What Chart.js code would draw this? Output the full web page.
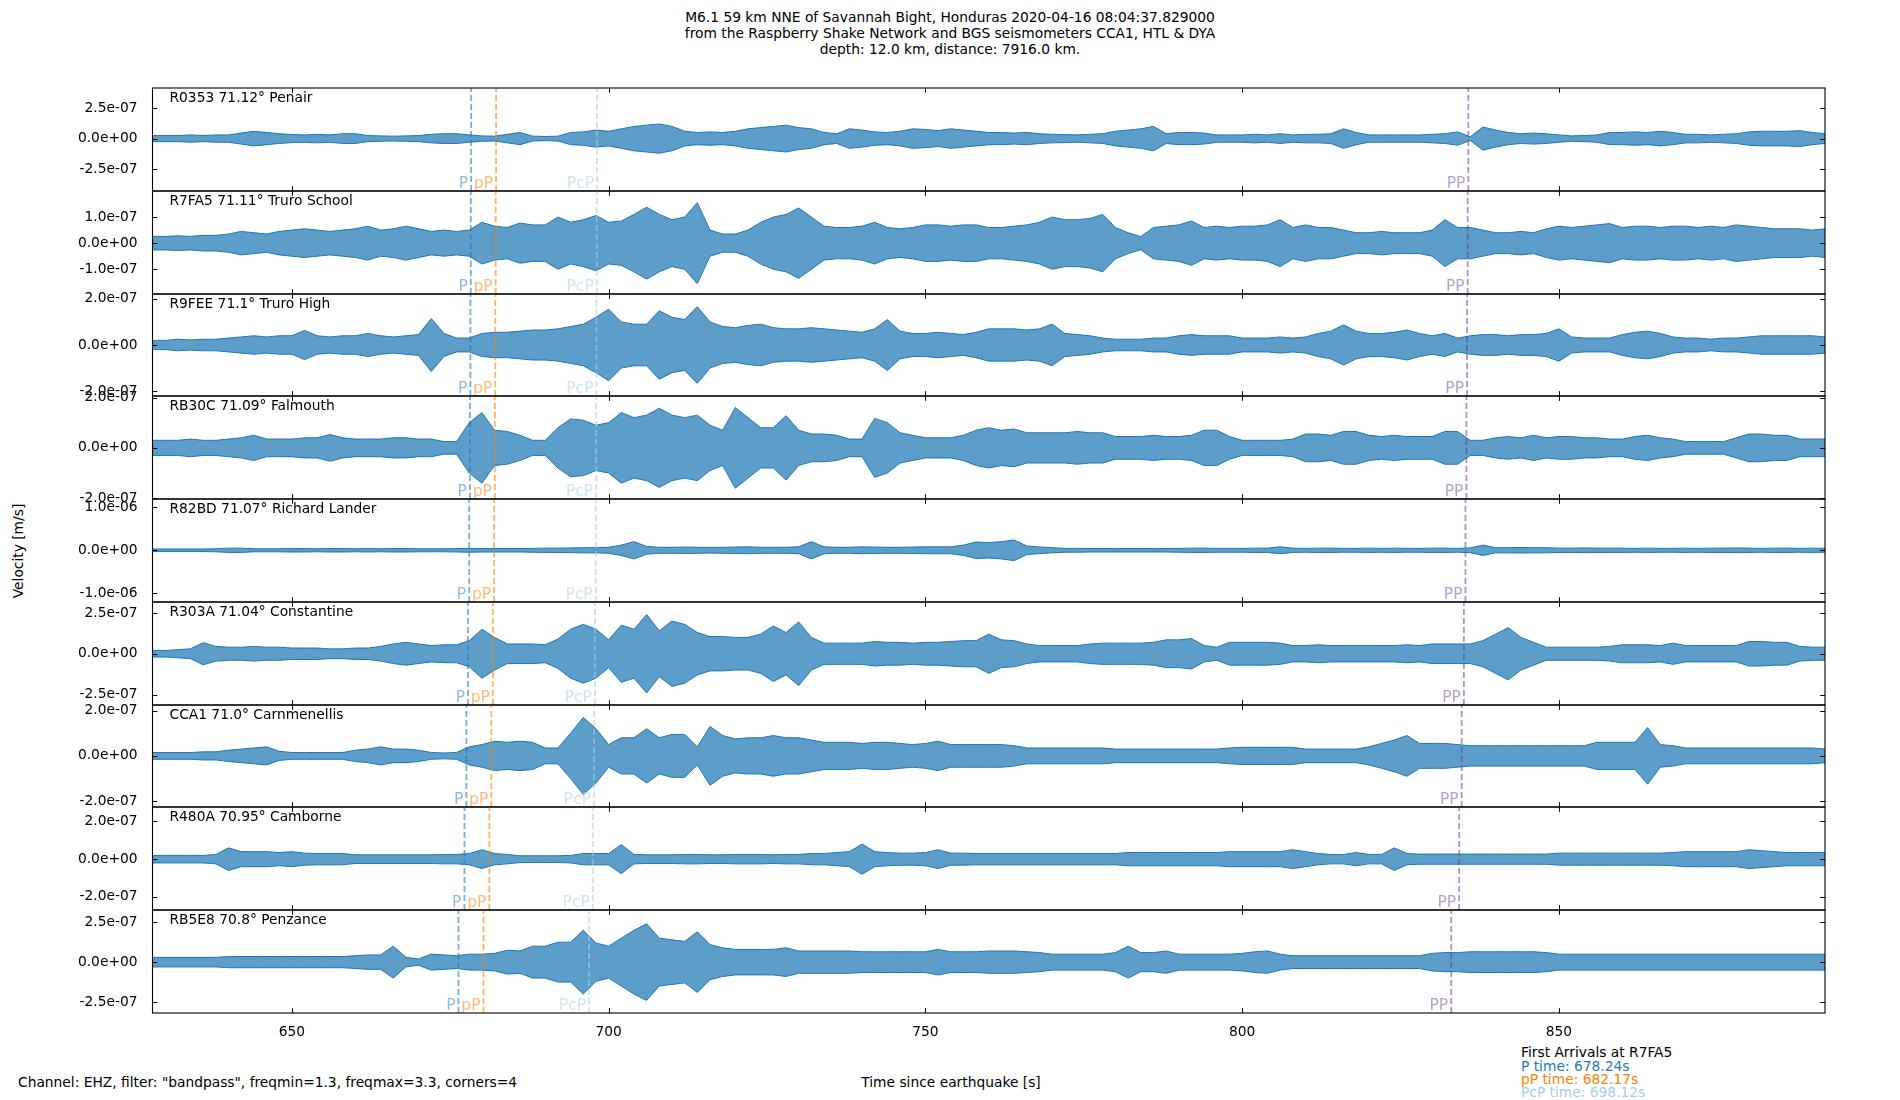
<!DOCTYPE html>
<html><head><meta charset="utf-8">
<script src="https://cdn.jsdelivr.net/npm/chart.js@4.4.1/dist/chart.umd.min.js"></script>
<style>
html,body{margin:0;padding:0;background:#fff;}
body{width:1900px;height:1100px;position:relative;overflow:hidden;font-family:"DejaVu Sans",sans-serif;font-size:13.8px;color:#000;}
canvas{position:absolute;left:0;}
.t{position:absolute;white-space:nowrap;line-height:16.4px;}
</style></head><body>
<div class="t" style="left:0;width:1900px;top:8.5px;text-align:center;">M6.1 59 km NNE of Savannah Bight, Honduras 2020-04-16 08:04:37.829000<br>from the Raspberry Shake Network and BGS seismometers CCA1, HTL &amp; DYA<br>depth: 12.0 km, distance: 7916.0 km.</div>
<div class="t" style="left:17.5px;top:551px;transform:translate(-50%,-50%) rotate(-90deg);">Velocity [m/s]</div>
<div class="t" style="left:18px;top:1073.8px;">Channel: EHZ, filter: "bandpass", freqmin=1.3, freqmax=3.3, corners=4</div>
<div class="t" style="left:951px;top:1073.8px;transform:translateX(-50%);">Time since earthquake [s]</div>
<div class="t" style="left:1521px;top:1043.8px;">First Arrivals at R7FA5</div>
<div class="t" style="left:1521px;top:1057.8px;color:#1f78b4;">P time: 678.24s</div>
<div class="t" style="left:1521px;top:1070.8px;color:#ff7f00;">pP time: 682.17s</div>
<div class="t" style="left:1521px;top:1084.3px;color:#a6cee3;">PcP time: 698.12s</div>
<script>
// ---------------- data ----------------
const T0 = 628, DT = 2;           // sampling grid of the envelope values (s)
const X_MIN = 628, X_MAX = 892;
const X_TICKS = [650, 700, 750, 800, 850];
const STATIONS = ['R0353 71.12° Penair','R7FA5 71.11° Truro School','R9FEE 71.1° Truro High','RB30C 71.09° Falmouth','R82BD 71.07° Richard Lander','R303A 71.04° Constantine','CCA1 71.0° Carnmenellis','R480A 70.95° Camborne','RB5E8 70.8° Penzance'];
const P_TIMES   = [678.30, 678.24, 678.18, 678.11, 677.99, 677.80, 677.55, 677.24, 676.30];
const PP_D_TIMES= [682.23, 682.17, 682.11, 682.04, 681.92, 681.73, 681.48, 681.17, 680.25];
const PCP_TIMES = [698.16, 698.12, 698.08, 698.04, 697.96, 697.84, 697.69, 697.49, 696.90];
const PP_TIMES  = [835.70, 835.60, 835.50, 835.40, 835.25, 835.00, 834.65, 834.25, 833.00];
const Y_MIN = [-4.3e-7, -1.95e-7, -2.21e-7, -2.03e-7, -1.2e-6, -3.14e-7, -2.26e-7, -2.7e-7, -3.19e-7];
const Y_MAX = [4.15e-7, 2.0e-7, 2.21e-7, 2.06e-7, 1.19e-6, 3.17e-7, 2.25e-7, 2.77e-7, 3.27e-7];
const Y_TICKS = [
  [-2.5e-7, 0, 2.5e-7], [-1e-7, 0, 1e-7], [-2e-7, 0, 2e-7], [-2e-7, 0, 2e-7], [-1e-6, 0, 1e-6],
  [-2.5e-7, 0, 2.5e-7], [-2e-7, 0, 2e-7], [-2e-7, 0, 2e-7], [-2.5e-7, 0, 2.5e-7]
];
const AMP_UNIT = 1e-8; // envelope amplitudes below are in 1e-8 m/s
const AMP_R0353 = [
2.5,2.5,2.5,3,2.5, 3,3,4.5,6,5, 4,3.3,3,3.5,3, 4,4,2.5,2.2,2, 2.2,2.5,3.5,4,4,
3,2.2,2,3.5,5, 2,1.7,2,5,5.5, 7,6,8,10,11, 12,10,6,5,5.5, 5,6,8,9,10,
11,9,8,5,4, 8,7,5.5,5,6, 8,7.5,6.5,8,7, 6,5,5,4.5,5, 4,3.5,3.3,3,3.5,
4,6,7,8,10, 4,5,5,4.5,3, 3,3,3.5,3,4, 3,3.5,3.5,4,8, 5,3,3,3,3,
3,3.5,4,5.5,1.5, 9.5,7,5,4,4.5, 4,3,2.2,2.5,3, 5,5,5.5,5,6, 5,3.5,3.5,3,3.5,
4,5.5,6,6,6, 6.5,5,4];
const AMP_R7FA5 = [
2.6,2.6,2.8,2.6,3, 3,3.5,4.5,4,3.5, 4.5,5,5.5,5,4.5, 5,5.5,6.5,5,5.5, 6.5,5.5,4.5,5,4.5,
5,8,6.5,6,7.7, 7,7,10,8,9, 10.6,8,8.5,11,13.8, 11,9,10,15.5,5, 3.5,3.5,5,8,10,
11,13.5,10,6.5,6, 6,6.5,8,6,5.5, 6,7,7,6.5,7, 7,6,6,6.5,7, 8,10,9,9,9.5,
11,6,4,2.5,6, 6.5,7,8.5,6,6.5, 6,6.5,6.5,7,9, 6,7,6,6,5, 4,4,4.5,4,4,
4,5,9,6,6, 5,4,4,4.5,4, 5.5,6.5,6,6.5,7, 7.5,6,6.5,6.5,6, 6.5,6.5,6,6.5,6,
7,6.5,6,5.5,5.5, 5.5,5,5.5];
const AMP_R9FEE = [
2,2,2.5,2.2,2.5, 2.5,3,3.5,4,3.5, 4,4,6.3,4,3.5, 4,4,5,4,3.5, 4,4.5,11.5,5,3,
3,5,5.5,5.5,6, 6.5,6.5,7,8,9, 12,15.5,10,9,9, 14.8,12,11,16.6,10, 8,7.5,8.5,9,7.5,
7,7,7.5,7,6.5, 6,5.5,7,11,6, 5,5,5.5,5,4.5, 5.5,7,7,7,6.5, 7,9,5,4.5,4,
3,2.5,2.5,2.5,3, 3,4,4.5,4,4, 4,3,3,3,3.5, 3,3.5,5,6,8.7, 6,5,5,5.5,6.5,
5,4,5,3,4, 4.5,4.5,4,4.5,4.5, 5,7,3.5,3,3, 3,4.5,5.5,6,5, 3.5,3,3,2.5,3,
3,3.5,4,4,4, 4,4,3.5];
const AMP_RB30C = [
3,3,3,3.5,3, 3,3.5,4,5,3.5, 3.5,3.5,4,4,5.3, 4,3.5,3.5,3.5,4, 4,3.5,3.5,2.5,2.5,
10,14,7,6.5,5, 3,3,8,11.5,11, 9,10,14,12,13, 15.7,13,12,13,9, 7,16,12,8,8,
12.8,7,5.5,5.5,5, 3.5,3.5,11.7,10,6, 5,4,4,4,5, 7,8,7,7.5,6, 6,6,6,6.5,6,
6,4.5,4.5,4.5,5, 4.5,4.5,5,7,7, 4.5,3,3,3,3, 3.5,5.5,5.5,5,6.5, 6.5,5,4.5,5,4.5,
4.5,4.5,6.5,6.5,3, 3,4,4.5,4,5, 4,4.5,4.5,4,4, 3.5,3.5,4.5,5,4, 3.5,2.5,2.5,2.5,2.5,
4,5.5,5.5,5,5, 3.5,3.5,3.5];
const AMP_R82BD = [
3,3,3,3,3, 3.5,5,5,3.5,3.5, 3.5,4,4,3.5,4, 4,3.5,4,3.5,4, 4,3.5,3.5,3.5,4,
4.5,4,4,4,4, 4.5,5,5,5.5,6, 6,7,12,20,9, 7,7,7.5,7,6.5, 7,7.5,8,7,7,
7,8,20,8,7, 7,8,7.5,7,7, 7.5,8,8,8,12, 19,18,20,24,10, 7.7,6,4.5,4.5,4,
4,4,4,4,4, 4,4.5,5,5,4.5, 4.5,4.5,5,5,8, 5,4.5,5,5,4.5, 4.5,5,4.5,5,4.5,
4.5,5,5,4.5,5.5, 12,6,6,6.5,6, 6,5,5,5.5,5, 5,5,4.5,5,4.5, 4.5,5,4.5,5,5,
5.5,5,4.5,5,5, 4.5,5,4.5];
const AMP_R303A = [
2,2,2.5,3,6.8, 4.5,4,4,4.5,4, 4,3.5,3.5,3.5,3, 3,3.5,3.5,4.5,6, 7,6,5,5.5,5.5,
8,15,10,6,6, 6,5.5,9,15,18, 15,8.5,17.5,15,24, 14,20,18,13,10.5, 10.5,10,10,12,17,
13,19.5,10,6.5,6.5, 6.5,6.5,7.5,7,7, 6.5,7,7,7.5,8, 8,12,8.5,8,6, 5,5,5,5,6,
6.5,6.5,6.5,6.5,7, 8.5,8.5,9.3,5,4, 7,7,7,7,6.5, 5,5,5.5,5,5, 5,5,5,5,5.5,
5,6,6,6,6, 8,12,16,10,7, 4,4,4,4,4, 4.5,5.5,5.5,5.5,5, 6.5,5,5,5,5,
5,7.5,7.5,7,7, 4.5,4,4];
const AMP_CCA1 = [
1.5,1.5,1.5,1.5,1.8, 1.8,2.5,3,3.5,4, 2,1.5,1.5,1.5,1.5, 1.5,2.5,3,4,3, 3,2.5,1.5,1.3,1.5,
4,5,6.5,6,6.5, 6,3.5,3.5,10,17, 12,5,8,8,12, 8,9.5,9.5,4,13, 9,7.5,8,8,9,
8,8,7,6,6, 6,5.5,6,6,5.5, 5,5.5,6.5,5,5, 5,5,5,4.5,3.5, 3.5,3.5,3.5,3.5,3.5,
3.5,3,3,3,3, 3,3,3,3,3, 3.5,3.8,3.8,3.8,3.8, 3.8,3,3,3,3, 3,4,5.5,7,9,
5.5,5.5,5.5,5,4.5, 4.5,4.5,4.5,4.5,4.5, 4.5,4.5,4.5,4.5,6, 6,6,6,12.5,5, 4.5,3.5,3.5,3.5,3.5,
3.5,3.5,3.5,3.5,3.5, 3.5,3.5,3];
const AMP_R480A = [
2,2,2,2,2, 2.5,6,4,4,4, 3.5,4,3.2,3,3, 3,2.3,2.3,2.3,2.3, 2.3,2.3,2.3,2.5,2.5,
3,5,3,2.5,1.8, 1.8,1.8,1.8,2,3, 3,3,7.7,2.5,2.3, 2.3,2.3,2.5,2.5,2.3, 2.3,2.5,2.5,2.5,2.3,
2.5,2.5,3,3,3.5, 4,8,4,3.5,3.2, 3.2,3.5,5,3.2,3.2, 3,3,3,3,3, 3,3,3,3,3,
3,3,3.5,3.5,3.5, 3.5,3.5,3.5,3.5,3.5, 4,4,4,4,4, 5,4,3,2.5,2.5, 3.5,2.5,2.5,6,3,
2.7,2.7,2.7,2.7,2.7, 2.7,2.7,2.7,2.7,2.7, 2.7,3.2,3.2,3.2,3.2, 3.2,3.2,3.2,3.2,3.2, 3.5,4,4,4,4,
4,5,4.5,4,3.5, 3.5,3.5,3.5];
const AMP_RB5E8 = [
3,3,3,3,3, 3,3.5,3.5,3.5,3.5, 3.5,3.5,3.5,3.5,3.5, 3.5,4,4.5,4.5,10, 3,2,5,4.5,4,
5,5,5.5,7.5,7, 10,10,12.5,12.5,20, 12,10,15,20,24, 15,14,13,19,11, 9,8,8,8,8,
9,7,7,7,7, 7,6.5,6.5,6.5,6.5, 6.5,6.5,8,6.5,6.5, 6.5,7,7,7,6.5, 6,5,5,5,5,
5,6,10,6,6, 7,5,5,5,5, 5,5.5,6.5,7,5, 4,4,4,4,4, 4,4,4,4,4,
4,5.5,6,6,6.5, 6.5,6.5,6.5,6.5,6.5, 6,5,5,5,5, 5,5,5,5,5, 5,5,5,5,5,
5,5,5,5,5, 5,5,5];
const AMPS = [AMP_R0353, AMP_R7FA5, AMP_R9FEE, AMP_RB30C, AMP_R82BD, AMP_R303A, AMP_CCA1, AMP_R480A, AMP_RB5E8];

// ---------------- styling / layout ----------------
const FONT = '"DejaVu Sans", sans-serif';
const FS = 13.8;
const TRACE = '#1f77b4';
const PHASES = [
  {name:'P',   times:P_TIMES,    line:'rgba(31,120,180,0.6)',  text:'rgba(31,120,180,0.5)'},
  {name:'pP',  times:PP_D_TIMES, line:'rgba(255,127,0,0.6)',   text:'rgba(255,127,0,0.55)'},
  {name:'PcP', times:PCP_TIMES,  line:'rgba(166,206,227,0.6)', text:'rgba(166,206,227,0.55)'},
  {name:'PP',  times:PP_TIMES,   line:'rgba(106,61,154,0.55)', text:'rgba(106,61,154,0.5)'}
];
const LEFT = 152.5, RIGHT = 1825, YW = 100;

function sci(v){
  const s = Number(v).toExponential(1);
  const parts = s.split('e');
  const sign = parts[1][0] === '-' ? '-' : '+';
  let d = parts[1].replace(/[+-]/, '');
  if (d.length < 2) d = '0' + d;
  return parts[0] + 'e' + sign + d;
}

function makePanel(i){
  const top = Math.round(88.3 + i * 102.7);
  const bot = Math.round(88.3 + (i + 1) * 102.7);
  const h = bot - top;
  const last = (i === AMPS.length - 1);
  const padT = 16, padB = last ? 0 : 16, axisH = last ? 32 : 0;
  const cv = document.createElement('canvas');
  const H = padT + h + padB + axisH;
  cv.width = 1900; cv.height = H;
  cv.style.width = '1900px'; cv.style.height = H + 'px';
  cv.style.top = (top - padT) + 'px';
  document.body.appendChild(cv);

  const amp = AMPS[i];
  const upper = amp.map((a, k) => ({x: T0 + k * DT, y: a * AMP_UNIT}));
  const lower = amp.map((a, k) => ({x: T0 + k * DT, y: -a * AMP_UNIT}));
  const datasets = [
    {data: upper, borderColor: TRACE, borderWidth: 1, pointRadius: 0, fill: false, order: 2, tension: 0},
    {data: lower, borderColor: TRACE, borderWidth: 1, pointRadius: 0, fill: '-1', backgroundColor: 'rgba(31,119,180,0.72)', order: 2, tension: 0}
  ];
  PHASES.forEach(ph => {
    const t = ph.times[i];
    datasets.push({data: [{x: t, y: Y_MIN[i]}, {x: t, y: Y_MAX[i]}], borderColor: ph.line, borderWidth: 1.8,
      borderDash: [6, 3], pointRadius: 0, fill: false, order: 0});
  });

  const deco = {
    id: 'deco' + i,
    afterDraw(chart){
      const ctx = chart.ctx, a = chart.chartArea;
      const xs = chart.scales.x, ys = chart.scales.y;
      ctx.save();
      // phase labels
      ctx.font = '15.5px ' + FONT;
      ctx.textAlign = 'right'; ctx.textBaseline = 'alphabetic';
      PHASES.forEach(ph => {
        ctx.fillStyle = ph.text;
        ctx.fillText(ph.name, xs.getPixelForValue(ph.times[i]) - 3, a.bottom - 3);
      });
      // frame
      ctx.strokeStyle = '#000'; ctx.lineWidth = 1.1;
      ctx.strokeRect(a.left, a.top, a.right - a.left, a.bottom - a.top);
      // inward ticks
      ctx.lineWidth = 1;
      ctx.beginPath();
      X_TICKS.forEach(v => {
        const px = Math.round(xs.getPixelForValue(v)) + 0.5;
        ctx.moveTo(px, a.top); ctx.lineTo(px, a.top + 4.8);
        ctx.moveTo(px, a.bottom); ctx.lineTo(px, a.bottom - 4.8);
      });
      Y_TICKS[i].forEach(v => {
        const py = Math.round(ys.getPixelForValue(v)) + 0.5;
        ctx.moveTo(a.left, py); ctx.lineTo(a.left + 4.8, py);
        ctx.moveTo(a.right, py); ctx.lineTo(a.right - 4.8, py);
      });
      ctx.stroke();
      // station label
      ctx.fillStyle = '#000';
      ctx.font = FS + 'px ' + FONT;
      ctx.textAlign = 'left'; ctx.textBaseline = 'middle';
      ctx.fillText(STATIONS[i], a.left + 17, a.top + 10);
      ctx.restore();
    }
  };

  new Chart(cv, {
    type: 'line',
    data: {datasets},
    options: {
      responsive: false, maintainAspectRatio: false, animation: false, devicePixelRatio: 1,
      layout: {padding: {left: LEFT - YW, right: 1900 - RIGHT, top: padT, bottom: padB}},
      plugins: {legend: {display: false}, tooltip: {enabled: false}},
      elements: {line: {borderJoinStyle: 'miter'}},
      scales: {
        x: {
          type: 'linear', min: X_MIN, max: X_MAX, display: last,
          grid: {display: false}, border: {display: false},
          afterBuildTicks: s => { s.ticks = X_TICKS.map(v => ({value: v})); },
          afterFit: s => { s.height = axisH; },
          ticks: {autoSkip: false, maxRotation: 0, padding: 3, color: '#000', font: {family: FONT, size: FS},
            callback: v => String(v)}
        },
        y: {
          type: 'linear', min: Y_MIN[i], max: Y_MAX[i],
          grid: {display: false}, border: {display: false},
          afterBuildTicks: s => { s.ticks = Y_TICKS[i].map(v => ({value: v})); },
          afterFit: s => { s.width = YW; },
          ticks: {autoSkip: false, padding: 7, color: '#000', font: {family: FONT, size: FS}, callback: v => sci(v)}
        }
      }
    },
    plugins: [deco]
  });
}
for (let i = 0; i < AMPS.length; i++) makePanel(i);
</script>
</body></html>
